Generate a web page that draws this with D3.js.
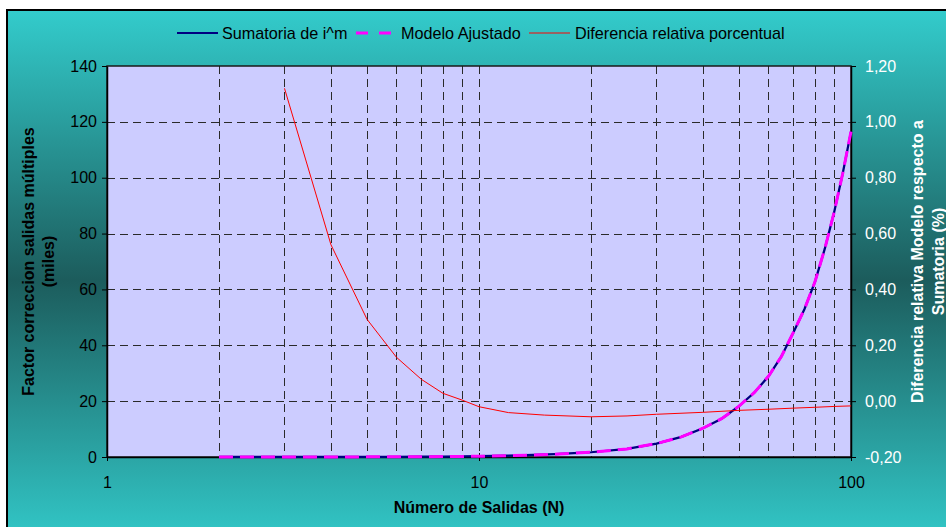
<!DOCTYPE html>
<html>
<head>
<meta charset="utf-8">
<script src="https://cdn.jsdelivr.net/npm/d3@7"></script>
<style>
  html, body { margin: 0; padding: 0; background: #ffffff; }
  svg { display: block; }
  text { font-family: "Liberation Sans", Arial, sans-serif; }
</style>
</head>
<body>
<svg id="chart" width="946" height="527"></svg>
<script>
// Number of outlets N and the series plotted against them
const nSum = [2, 3, 4, 5, 6, 7, 8, 9, 10, 12, 14, 16, 18, 20, 25, 30, 35, 40, 45, 50, 55, 60, 65, 70, 75, 80, 85, 90, 95, 100];
// Sum of i^m (thousands)
const sumatoria = [0.005, 0.012, 0.025, 0.045, 0.07, 0.1, 0.15, 0.2, 0.27, 0.45, 0.72, 1.0, 1.35, 1.7, 2.9, 4.8, 7.2, 10.3, 13.8, 18.2, 23.1, 28.9, 36.0, 44.6, 53.0, 62.7, 74.5, 87.4, 101.5, 116.5];
// Fitted model (thousands)
const modelo = [0.005, 0.012, 0.025, 0.045, 0.07, 0.1, 0.15, 0.2, 0.27, 0.45, 0.72, 1.0, 1.35, 1.7, 2.9, 4.8, 7.2, 10.3, 13.8, 18.2, 23.1, 28.9, 36.0, 44.6, 53.0, 62.7, 74.5, 87.4, 101.5, 116.5];
// Relative difference of the model against the sum (%)
const nDif = [3, 4, 5, 6, 7, 8, 9, 10, 12, 15, 20, 25, 30, 40, 50, 60, 70, 80, 90, 100];
const diferencia = [1.12, 0.56, 0.293, 0.157, 0.078, 0.028, 0.004, -0.02, -0.041, -0.05, -0.056, -0.053, -0.047, -0.04, -0.033, -0.029, -0.025, -0.022, -0.019, -0.017];

const seriesNames = ["Sumatoria de i^m", "Modelo Ajustado", "Diferencia relativa porcentual"];
const xTicks = [1, 10, 100];
const xGrid = [2, 3, 4, 5, 6, 7, 8, 9, 10, 20, 30, 40, 50, 60, 70, 80, 90];
const yLeftTicks = [0, 20, 40, 60, 80, 100, 120, 140];
const yRightTicks = [-0.2, 0, 0.2, 0.4, 0.6, 0.8, 1.0, 1.2];

const svg = d3.select("#chart");
const FONT = '"Liberation Sans", Arial, sans-serif';

// Chart area background: teal that darkens towards the middle
const defs = svg.append("defs");
const grad = defs.append("linearGradient")
  .attr("id", "bgGrad").attr("x1", 0).attr("y1", 0).attr("x2", 0).attr("y2", 1);
grad.append("stop").attr("offset", "0%").attr("stop-color", "#33CCCC");
grad.append("stop").attr("offset", "50%").attr("stop-color", "#1C5C5C");
grad.append("stop").attr("offset", "100%").attr("stop-color", "#33CCCC");

svg.append("rect")
  .attr("x", 7).attr("y", 10).attr("width", 960).attr("height", 540)
  .attr("fill", "url(#bgGrad)")
  .attr("stroke", "#000").attr("stroke-width", 2);

const plot = { left: 107, right: 851, top: 66, bottom: 457 };

const x = d3.scaleLog().domain([1, 100]).range([plot.left, plot.right]);
const yL = d3.scaleLinear().domain([0, 140]).range([plot.bottom, plot.top]);
const yR = d3.scaleLinear().domain([-0.2, 1.2]).range([plot.bottom, plot.top]);

// Plot area
svg.append("rect")
  .attr("x", plot.left).attr("y", plot.top)
  .attr("width", plot.right - plot.left).attr("height", plot.bottom - plot.top)
  .attr("fill", "#CCCCFF");

// Dashed gridlines
const grid = svg.append("g").attr("stroke", "#2a2a2a").attr("stroke-width", 1)
  .attr("stroke-dasharray", "8,5").attr("fill", "none");
grid.selectAll("line.v").data(xGrid).join("line")
  .attr("class", "v")
  .attr("x1", d => Math.round(x(d)) + 0.5).attr("x2", d => Math.round(x(d)) + 0.5)
  .attr("y1", plot.top).attr("y2", plot.bottom);
grid.selectAll("line.h").data(yLeftTicks.filter(d => d > 0 && d < 140)).join("line")
  .attr("class", "h")
  .attr("x1", plot.left).attr("x2", plot.right)
  .attr("y1", d => Math.round(yL(d)) + 0.5).attr("y2", d => Math.round(yL(d)) + 0.5);

// Plot area border
svg.append("rect")
  .attr("x", plot.left).attr("y", plot.top)
  .attr("width", plot.right - plot.left).attr("height", plot.bottom - plot.top)
  .attr("fill", "none").attr("stroke", "#1a1a1a").attr("stroke-width", 1.5);

// Axes (decimal comma, plain hyphen for negatives)
const commaFmt = d3.formatLocale({ decimal: ",", thousands: ".", grouping: [3], currency: ["", ""], minus: "-" }).format(".2f");

const axL = svg.append("g").attr("transform", `translate(${plot.left},0)`)
  .call(d3.axisLeft(yL).tickValues(yLeftTicks).tickSize(5).tickSizeOuter(0).tickPadding(5).tickFormat(d3.format("d")));
const axR = svg.append("g").attr("transform", `translate(${plot.right},0)`)
  .call(d3.axisRight(yR).tickValues(yRightTicks).tickSize(5).tickSizeOuter(0).tickPadding(9).tickFormat(commaFmt));
const axB = svg.append("g").attr("transform", `translate(0,${plot.bottom})`)
  .call(d3.axisBottom(x).tickValues(xTicks).tickSize(4).tickSizeOuter(0).tickPadding(16).tickFormat(d3.format("d")));

[axL, axR, axB].forEach(a => {
  a.select(".domain").attr("stroke", "#000").attr("stroke-width", 1.5);
  a.selectAll(".tick line").attr("stroke", "#000").attr("stroke-width", 1);
  a.selectAll(".tick text").attr("font-family", FONT).attr("font-size", 16);
});
axL.selectAll(".tick text").attr("fill", "#000");
axR.selectAll(".tick text").attr("fill", "#fff");
axB.selectAll(".tick text").attr("fill", "#000");
axB.selectAll(".tick line").attr("y1", -4);

// Series lines
const lineL = d3.line().x(d => x(d[0])).y(d => yL(d[1]));
const lineR = d3.line().x(d => x(d[0])).y(d => yR(d[1]));

svg.append("path")
  .datum(d3.zip(nSum, sumatoria))
  .attr("d", lineL).attr("fill", "none")
  .attr("stroke", "#000080").attr("stroke-width", 2.25);
svg.append("path")
  .datum(d3.zip(nSum, modelo))
  .attr("d", lineL).attr("fill", "none")
  .attr("stroke", "#FF00FF").attr("stroke-width", 3)
  .attr("stroke-dasharray", "14,7");
svg.append("path")
  .datum(d3.zip(nDif, diferencia))
  .attr("d", lineR).attr("fill", "none")
  .attr("stroke", "#FF0000").attr("stroke-width", 1);

// Axis titles
svg.append("text")
  .attr("x", (plot.left + plot.right) / 2).attr("y", 513)
  .attr("text-anchor", "middle").attr("font-family", FONT)
  .attr("font-size", 16).attr("font-weight", "bold").attr("fill", "#000")
  .text("Número de Salidas (N)");

const midY = (plot.top + plot.bottom) / 2;
const leftTitle = svg.append("g").attr("font-family", FONT).attr("font-size", 16)
  .attr("font-weight", "bold").attr("fill", "#000").attr("text-anchor", "middle");
leftTitle.append("text").attr("transform", `translate(34,${midY}) rotate(-90)`)
  .text("Factor correccion salidas múltiples");
leftTitle.append("text").attr("transform", `translate(53.5,${midY}) rotate(-90)`)
  .text("(miles)");

const rightTitle = svg.append("g").attr("font-family", FONT).attr("font-size", 16)
  .attr("font-weight", "bold").attr("fill", "#fff").attr("text-anchor", "middle");
rightTitle.append("text").attr("transform", `translate(923,${midY}) rotate(-90)`)
  .text("Diferencia relativa Modelo respecto a");
rightTitle.append("text").attr("transform", `translate(944,${midY}) rotate(-90)`)
  .text("Sumatoria (%)");

// Legend
const legend = svg.append("g");
const legendItems = [
  { name: seriesNames[0], x0: 177, x1: 218, tx: 222, color: "#000080", w: 2, dash: null },
  { name: seriesNames[1], x0: 356, x1: 393, tx: 401, color: "#FF00FF", w: 3, dash: "12,11" },
  { name: seriesNames[2], x0: 529, x1: 570, tx: 575, color: "#FF0000", w: 1, dash: null }
];
legendItems.forEach(it => {
  legend.append("line")
    .attr("x1", it.x0).attr("x2", it.x1).attr("y1", 33).attr("y2", 33)
    .attr("stroke", it.color).attr("stroke-width", it.w)
    .attr("stroke-dasharray", it.dash);
  legend.append("text")
    .attr("x", it.tx).attr("y", 38.5)
    .attr("font-family", FONT).attr("font-size", 16.2).attr("fill", "#000")
    .text(it.name);
});
</script>
</body>
</html>
